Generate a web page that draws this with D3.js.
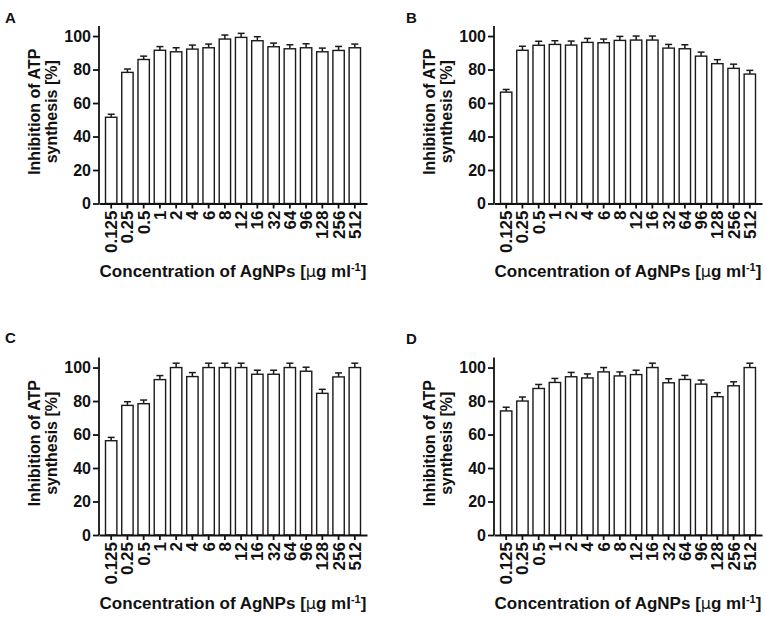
<!DOCTYPE html>
<html lang="en">
<head>
    <meta charset="UTF-8">
</head>
<style>
    body{
        margin:0;
        width:767px;
        height:618px;
        background:#fff;
        font-family:"Liberation Sans", Arial, sans-serif;
    }
    #chart{
        width:767px;
        height:618px;
        display:block;
    }
    .bar{
        fill:#fff;
        stroke:#1a1a1a;
        stroke-width:1.4;
    }
    .err{
        stroke:#1a1a1a;
        stroke-width:1.5;
        fill:none;
    }
    .axis path, .axis line{
        stroke:#111;
        stroke-width:1.8;
    }
    .axis text{
        font-family:"Liberation Sans", Arial, sans-serif;
        font-weight:bold;
        font-size:16px;
        fill:#111;
    }
    .xaxis text{
        font-size:17px;
    }
    .title{
        font-weight:bold;
        font-size:16px;
        fill:#111;
    }
    .xtitle{
        font-size:17px;
    }
    .letter{
        font-weight:bold;
        font-size:15px;
        fill:#111;
    }
</style>
<script src="https://d3js.org/d3.v7.min.js"></script>
<script>
    // concentrations of AgNPs [ug/ml]
    var categories = ["0.125", "0.25", "0.5", "1", "2", "4", "6", "8", "12", "16", "32", "64", "96", "128", "256", "512"];

    // inhibition of ATP synthesis [%]
    var valuesA = [51.5, 78.3, 86, 91.5, 90.6, 92.2, 93, 98.2, 99.2, 97.2, 93.6, 92.4, 93, 90.6, 91.4, 93];
    var errA    = [1.8, 2.0, 2.0, 2.2, 2.4, 2.4, 2.2, 2.4, 2.4, 2.4, 2.2, 2.4, 2.4, 2.2, 2.4, 2.2];
    var valuesB = [66.5, 91.5, 94.5, 95, 94.6, 96.2, 96, 97.4, 97.6, 97.6, 92.8, 92.4, 88, 83.5, 80.7, 77.3];
    var errB    = [1.6, 2.4, 2.4, 2.2, 2.4, 2.4, 2.2, 2.4, 2.4, 2.4, 2.2, 2.4, 2.4, 2.4, 2.5, 2.2];
    var valuesC = [56.3, 77.4, 78.4, 92.8, 100, 94.6, 100, 100, 100, 96, 96, 100, 97.8, 84.6, 94.4, 100];
    var errC    = [2.0, 2.2, 2.2, 2.4, 2.6, 2.4, 2.6, 2.6, 2.6, 2.4, 2.4, 2.6, 2.4, 2.4, 2.4, 2.6];
    var valuesD = [74.1, 80, 87.5, 91.1, 94.5, 93.8, 97.4, 95, 95.8, 100, 90.9, 92.9, 90.1, 82.6, 89.1, 100];
    var errD    = [2.2, 2.4, 2.4, 2.4, 2.6, 2.4, 2.6, 2.4, 2.6, 2.6, 2.4, 2.4, 2.4, 2.4, 2.4, 2.6];

    var yTicks = [0, 20, 40, 60, 80, 100];
    var panelLetters = ["A", "B", "C", "D"];

    d3.select(window).on('load', init);

    function init() {
        var width = 268, height = 177.5;

        var svg = d3.select("#chart");

        var panels = [
            {letter: panelLetters[0], values: valuesA, err: errA, x: 99,  y: 26,    lx: 5,   ly: 23},
            {letter: panelLetters[1], values: valuesB, err: errB, x: 494, y: 26,    lx: 406, ly: 23},
            {letter: panelLetters[2], values: valuesC, err: errC, x: 99,  y: 357.5, lx: 5,   ly: 343},
            {letter: panelLetters[3], values: valuesD, err: errD, x: 494, y: 357.5, lx: 406, ly: 344}
        ];

        var x = d3.scaleBand().domain(categories).range([0, width])
            .paddingInner(0.3)
            .paddingOuter(0.4);
        var y = d3.scaleLinear().domain([0, 106]).range([height, 0]);

        panels.forEach(function(p) {
            svg.append("text")
                .attr("class", "letter")
                .attr("x", p.lx)
                .attr("y", p.ly)
                .text(p.letter);

            var g = svg.append("g")
                .attr("transform", "translate(" + p.x + "," + p.y + ")");

            var data = categories.map(function(c, i) {
                return {cat: c, v: p.values[i], e: p.err[i]};
            });

            // error bars (upper only)
            var cap = 3.5;
            g.selectAll(".errv")
                .data(data)
                .enter().append("line")
                .attr("class", "err")
                .attr("x1", function(d) { return x(d.cat) + x.bandwidth() / 2; })
                .attr("x2", function(d) { return x(d.cat) + x.bandwidth() / 2; })
                .attr("y1", function(d) { return y(d.v); })
                .attr("y2", function(d) { return y(d.v + d.e); });
            g.selectAll(".errc")
                .data(data)
                .enter().append("line")
                .attr("class", "err")
                .attr("x1", function(d) { return x(d.cat) + x.bandwidth() / 2 - cap; })
                .attr("x2", function(d) { return x(d.cat) + x.bandwidth() / 2 + cap; })
                .attr("y1", function(d) { return y(d.v + d.e); })
                .attr("y2", function(d) { return y(d.v + d.e); });

            g.selectAll(".bar")
                .data(data)
                .enter().append("rect")
                .attr("class", "bar")
                .attr("x", function(d) { return x(d.cat); })
                .attr("width", x.bandwidth())
                .attr("y", function(d) { return y(d.v); })
                .attr("height", function(d) { return height - y(d.v); });

            g.append("g")
                .attr("class", "axis")
                .call(d3.axisLeft(y).tickValues(yTicks).tickSize(6).tickPadding(2).tickSizeOuter(0))
                .call(function(a) { a.select(".domain").attr("d", "M0," + y(106) + "V" + height); });

            g.append("g")
                .attr("class", "axis xaxis")
                .attr("transform", "translate(0," + height + ")")
                .call(d3.axisBottom(x).tickSize(5).tickSizeOuter(0))
                .selectAll("text")
                .attr("transform", "rotate(-90)")
                .attr("x", -7)
                .attr("y", 0)
                .attr("dy", "0.35em")
                .style("text-anchor", "end");

            // y title, two lines
            g.append("text")
                .attr("class", "title")
                .attr("text-anchor", "middle")
                .attr("transform", "translate(-59," + (height / 2 - 3) + ") rotate(-90)")
                .text("Inhibition of ATP");
            g.append("text")
                .attr("class", "title")
                .attr("text-anchor", "middle")
                .attr("transform", "translate(-42.5," + (height / 2 - 3) + ") rotate(-90)")
                .text("synthesis [%]");

            var xt = g.append("text")
                .attr("class", "title xtitle")
                .attr("text-anchor", "middle")
                .attr("x", width / 2)
                .attr("y", 251);
            xt.append("tspan").text("Concentration of AgNPs [");
            xt.append("tspan").style("font-weight", "normal").style("font-family", "'DejaVu Sans', sans-serif").style("font-size", "16px").text("\u00b5");
            xt.append("tspan").text("g ml");
            xt.append("tspan").attr("dy", -6).style("font-size", "11px").text("-1");
            xt.append("tspan").attr("dy", 6).text("]");
        });
    }
</script>
<body>
<svg id="chart"></svg>
</body>
</html>
